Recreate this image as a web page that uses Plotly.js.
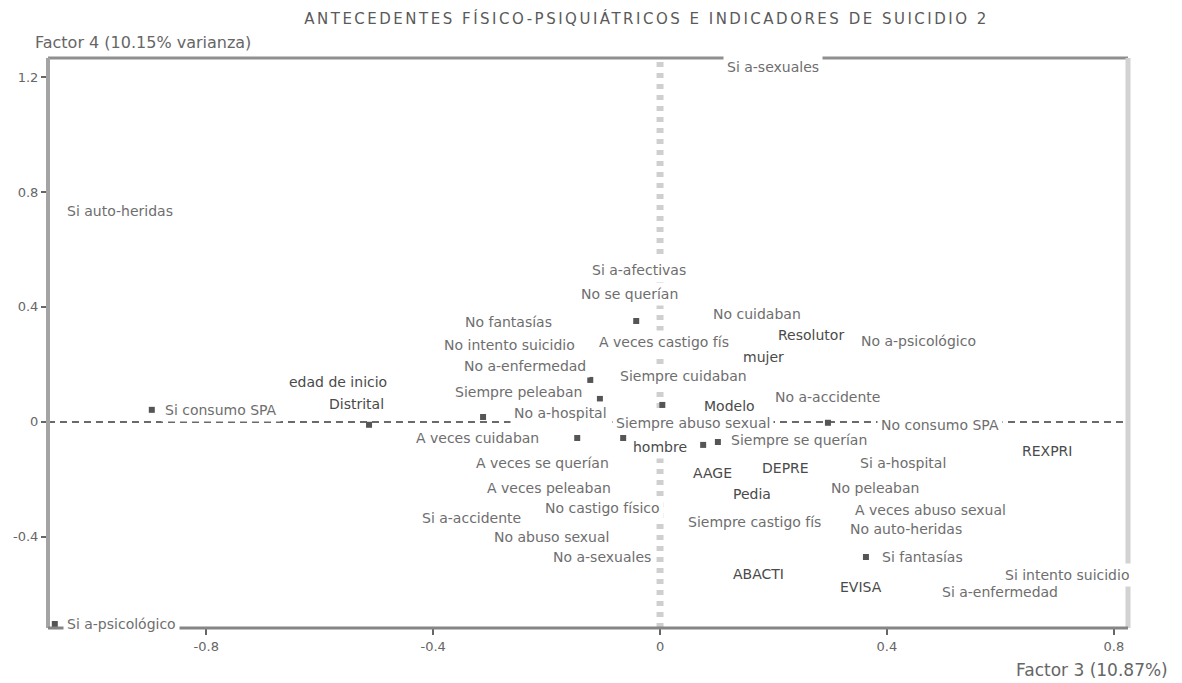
<!DOCTYPE html>
<html>
<head>
<meta charset="utf-8">
<script src="https://cdn.plot.ly/plotly-3.0.1.min.js"></script>
<style>
  html, body { margin: 0; padding: 0; background: #ffffff; }
  #chart { width: 1182px; height: 683px; }
  .gtitle { letter-spacing: 2.5px; }
</style>
</head>
<body>
<div id="chart"></div>
<script>
// ---- Data ----
const categories = [
  "Si a-sexuales", "Si auto-heridas", "Si a-afectivas", "No se querían", "No fantasías",
  "No cuidaban", "Resolutor", "No a-psicológico", "No intento suicidio", "A veces castigo fís",
  "mujer", "No a-enfermedad", "Siempre cuidaban", "edad de inicio", "Siempre peleaban",
  "No a-accidente", "Distrital", "Modelo", "Si consumo SPA", "No a-hospital",
  "Siempre abuso sexual", "No consumo SPA", "A veces cuidaban", "Siempre se querían", "hombre",
  "REXPRI", "A veces se querían", "Si a-hospital", "AAGE", "DEPRE",
  "A veces peleaban", "No peleaban", "Pedia", "No castigo físico", "A veces abuso sexual",
  "Si a-accidente", "Siempre castigo fís", "No auto-heridas", "No abuso sexual", "No a-sexuales",
  "Si fantasías", "ABACTI", "Si intento suicidio", "EVISA", "Si a-enfermedad",
  "Si a-psicológico"
];
const factor3 = [
  0.199, -0.952, -0.037, -0.053, -0.268,
  0.171, 0.266, 0.455, -0.265, 0.007,
  0.182, -0.238, 0.042, -0.568, -0.250,
  0.296, -0.536, 0.122, -0.774, -0.175,
  0.058, 0.494, -0.321, 0.245, 0.000,
  0.683, -0.208, 0.429, 0.093, 0.222,
  -0.196, 0.379, 0.162, -0.102, 0.476,
  -0.332, 0.166, 0.434, -0.192, -0.102,
  0.462, 0.173, 0.717, 0.354, 0.600,
  -0.949
];
const factor4 = [
  1.235, 0.734, 0.529, 0.445, 0.348,
  0.376, 0.303, 0.282, 0.268, 0.278,
  0.226, 0.195, 0.160, 0.139, 0.104,
  0.087, 0.063, 0.056, 0.042, 0.031,
  -0.003, -0.010, -0.056, -0.063, -0.087,
  -0.101, -0.143, -0.143, -0.177, -0.160,
  -0.230, -0.230, -0.250, -0.299, -0.306,
  -0.334, -0.348, -0.372, -0.400, -0.470,
  -0.470, -0.529, -0.532, -0.574, -0.591,
  -0.703
];
// visible point markers
const pointF3 = [-0.896, -1.067, -0.513, -0.042, -0.123, -0.106, -0.312, -0.146, -0.065, 0.076, 0.102, 0.004, 0.296, 0.363];
const pointF4 = [0.042, -0.703, -0.010, 0.351, 0.146, 0.080, 0.017, -0.056, -0.056, -0.080, -0.070, 0.059, -0.003, -0.470];

const tickVals = [-0.8, -0.4, 0, 0.4, 0.8];
const xTickText = ["-0.8", "-0.4", "0", "0.4", "0.8"];
const yTickVals = [-0.4, 0, 0.4, 0.8, 1.2];
const yTickText = ["-0.4", "0", "0.4", "0.8", "1.2"];

const chartTitle = "ANTECEDENTES FÍSICO-PSIQUIÁTRICOS E INDICADORES DE SUICIDIO 2";
const yTitle = "Factor 4 (10.15% varianza)";
const xTitle = "Factor 3 (10.87%)";

// ---- Styling ----
const FONT = "DejaVu Sans, Arial, sans-serif";
const darker = new Set(["REXPRI", "AAGE", "DEPRE", "Pedia", "ABACTI", "EVISA", "edad de inicio", "Distrital", "Resolutor", "mujer", "hombre", "Modelo"]);

const XR = [-1.079, 0.825];
const YR = [-0.717, 1.266];

const traces = [{
  type: "scatter",
  mode: "markers",
  x: pointF3,
  y: pointF4,
  marker: { symbol: "square", size: 6, color: "#555555" },
  hoverinfo: "skip",
  showlegend: false,
  cliponaxis: false
}];

const annotations = categories.map((c, i) => ({
  x: factor3[i], y: factor4[i], xref: "x", yref: "y",
  text: c, showarrow: false,
  xanchor: "center", yanchor: "middle",
  bgcolor: "#ffffff", borderpad: 3,
  font: { family: FONT, size: 14, color: darker.has(c) ? "#4a4a4a" : "#6e6e6e" }
}));

annotations.push({
  xref: "paper", yref: "paper", x: -0.014, y: 1.028,
  xanchor: "left", yanchor: "middle", showarrow: false,
  text: yTitle, font: { family: FONT, size: 16, color: "#666666" }
});
annotations.push({
  xref: "paper", yref: "paper", x: 1.039, y: -0.074,
  xanchor: "right", yanchor: "middle", showarrow: false,
  text: xTitle, font: { family: FONT, size: 17, color: "#666666" }
});

const shapes = [
  // dashed reference lines
  { type: "line", xref: "x", yref: "paper", x0: 0, x1: 0, y0: 0, y1: 1, layer: "below",
    line: { color: "#cfcfcf", width: 7, dash: "5px,6px" } },
  { type: "line", xref: "paper", yref: "y", x0: 0, x1: 1, y0: 0, y1: 0, layer: "below",
    line: { color: "#6a6a6a", width: 2, dash: "7px,5px" } },
  // frame
  { type: "line", xref: "paper", yref: "paper", x0: 0, x1: 1, y0: 1, y1: 1, layer: "above",
    line: { color: "#8f8f8f", width: 3 } },
  { type: "line", xref: "paper", yref: "paper", x0: 1, x1: 1, y0: 0, y1: 1, layer: "above",
    line: { color: "#d2d2d2", width: 5 } },
  { type: "line", xref: "paper", yref: "paper", x0: 0, x1: 0, y0: 0, y1: 1, layer: "above",
    line: { color: "#a4a4a4", width: 4 } },
  { type: "line", xref: "paper", yref: "paper", x0: 0, x1: 1, y0: 0, y1: 0, layer: "above",
    line: { color: "#858585", width: 3 } }
];

const layout = {
  width: 1182, height: 683,
  paper_bgcolor: "#ffffff", plot_bgcolor: "#ffffff",
  margin: { l: 48, r: 54, t: 58, b: 55 },
  font: { family: FONT, size: 14, color: "#666666" },
  title: {
    text: chartTitle, x: 0.547, xref: "container", xanchor: "center",
    y: 0.972, yref: "container", yanchor: "middle",
    font: { family: FONT, size: 15, color: "#5a5a5a" }
  },
  xaxis: {
    range: XR, showgrid: false, zeroline: false, showline: false,
    tickmode: "array", tickvals: tickVals, ticktext: xTickText,
    ticks: "outside", ticklen: 6, tickwidth: 2, tickcolor: "#666666",
    tickfont: { family: FONT, size: 13, color: "#666666" }
  },
  yaxis: {
    range: YR, showgrid: false, zeroline: false, showline: false,
    tickmode: "array", tickvals: yTickVals, ticktext: yTickText,
    ticks: "outside", ticklen: 6, tickwidth: 2, tickcolor: "#666666",
    tickfont: { family: FONT, size: 13, color: "#666666" }
  },
  showlegend: false,
  shapes: shapes,
  annotations: annotations
};

Plotly.newPlot("chart", traces, layout, { displayModeBar: false, staticPlot: true });
</script>
</body>
</html>
